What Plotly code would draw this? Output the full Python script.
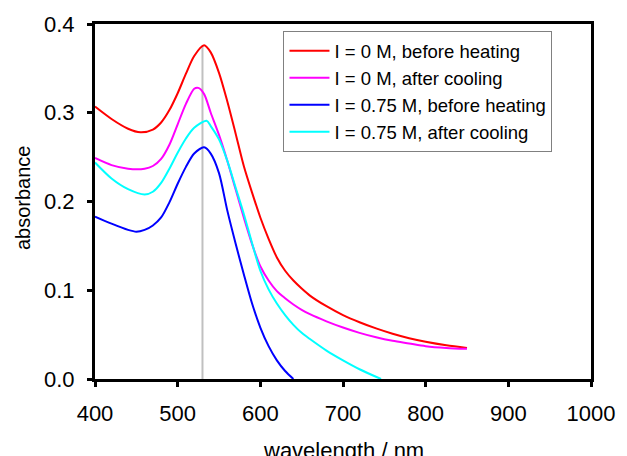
import plotly.graph_objects as go

# ---- data ----
red_x = [400, 420, 440, 455, 470, 480, 490, 500, 510, 520, 532, 540, 550, 560, 570, 580, 590, 600,
         610, 620, 630, 640, 650, 660, 680, 700, 720, 740, 760, 780, 800, 825, 850]
red_y = [0.307, 0.293, 0.282, 0.278, 0.281, 0.289, 0.303, 0.322, 0.344, 0.364, 0.376, 0.368, 0.345,
         0.313, 0.277, 0.240, 0.210, 0.182, 0.158, 0.137, 0.122, 0.111, 0.102, 0.094, 0.082, 0.072,
         0.064, 0.057, 0.051, 0.046, 0.042, 0.038, 0.035]

mag_x = [400, 420, 440, 460, 470, 480, 490, 500, 510, 520, 525, 532, 540, 550, 560, 570, 580, 590,
         600, 610, 620, 630, 640, 650, 660, 680, 700, 720, 740, 760, 780, 800, 825, 850]
mag_y = [0.249, 0.241, 0.237, 0.237, 0.240, 0.248, 0.264, 0.287, 0.310, 0.327, 0.328, 0.321, 0.300,
         0.275, 0.246, 0.214, 0.182, 0.152, 0.127, 0.111, 0.099, 0.091, 0.084, 0.078, 0.073, 0.065,
         0.058, 0.052, 0.047, 0.043, 0.040, 0.037, 0.035, 0.034]

blue_x = [400, 420, 440, 450, 460, 470, 480, 490, 500, 510, 520, 532, 540, 550, 560, 570, 580, 590,
          600, 610, 620, 630, 640]
blue_y = [0.183, 0.175, 0.168, 0.166, 0.168, 0.173, 0.182, 0.199, 0.220, 0.239, 0.254, 0.261, 0.254,
          0.232, 0.190, 0.153, 0.118, 0.085, 0.058, 0.037, 0.021, 0.009, 0.000]

cyan_x = [400, 420, 440, 460, 470, 480, 490, 500, 510, 520, 535, 540, 550, 560, 570, 580, 590, 600,
          610, 620, 630, 640, 650, 660, 680, 700, 720, 746]
cyan_y = [0.244, 0.226, 0.214, 0.208, 0.211, 0.221, 0.237, 0.255, 0.271, 0.283, 0.291, 0.285, 0.270,
          0.246, 0.216, 0.186, 0.153, 0.122, 0.101, 0.085, 0.072, 0.061, 0.052, 0.045, 0.032, 0.021,
          0.011, 0.000]

marker_x = [530, 530]
marker_y = [0.0, 0.376]

names = ["I = 0 M, before heating", "I = 0 M, after cooling",
         "I = 0.75 M, before heating", "I = 0.75 M, after cooling"]
colors = ["#FF0000", "#FF00FF", "#0000FF", "#00FFFF"]

x_ticks = [400, 500, 600, 700, 800, 900, 1000]
y_ticks = [0.0, 0.1, 0.2, 0.3, 0.4]

FONT = "Liberation Sans, Arial, sans-serif"

fig = go.Figure()
fig.add_trace(go.Scatter(x=marker_x, y=marker_y, mode="lines",
                         line=dict(color="#C0C0C0", width=2), showlegend=False,
                         hoverinfo="skip"))
for xs, ys, nm, col in zip([red_x, mag_x, blue_x, cyan_x], [red_y, mag_y, blue_y, cyan_y],
                           names, colors):
    fig.add_trace(go.Scatter(x=xs, y=ys, mode="lines", name=nm,
                             line=dict(color=col, width=2, shape="spline", smoothing=0.8)))

fig.update_layout(
    width=627, height=456,
    margin=dict(l=95, r=28, t=23, b=77),
    paper_bgcolor="white", plot_bgcolor="white",
    font=dict(family=FONT, size=22, color="black"),
    showlegend=True,
    legend=dict(x=0.38, y=0.98, xanchor="left", yanchor="top",
                bordercolor="#808080", borderwidth=1, bgcolor="white",
                font=dict(family=FONT, size=18.5, color="black"),
                tracegroupgap=0, itemwidth=40),
    xaxis=dict(range=[400, 1000], tickvals=x_ticks, ticktext=[str(v) for v in x_ticks],
               showgrid=False, zeroline=False, showline=True, linecolor="black",
               linewidth=3, mirror=True, ticks="outside", ticklen=5, tickwidth=3,
               tickcolor="black", ticklabelstandoff=8,
               tickfont=dict(family=FONT, size=22, color="black")),
    yaxis=dict(range=[0, 0.4], tickvals=y_ticks, ticktext=[f"{v:.1f}" for v in y_ticks],
               showgrid=False, zeroline=False, showline=True, linecolor="black",
               linewidth=3, mirror=True, ticks="outside", ticklen=5, tickwidth=3,
               tickcolor="black", ticklabelstandoff=8,
               tickfont=dict(family=FONT, size=22, color="black")),
    annotations=[
        dict(text="absorbance", x=-0.145, y=0.51, xref="paper", yref="paper",
             textangle=-90, showarrow=False, xanchor="center", yanchor="middle",
             font=dict(family=FONT, size=20, color="black")),
        dict(text="wavelength / nm", x=0.5, y=-0.16, xref="paper", yref="paper",
             showarrow=False, xanchor="center", yanchor="top",
             font=dict(family=FONT, size=22, color="black")),
    ],
)

fig.write_html("out.html")
